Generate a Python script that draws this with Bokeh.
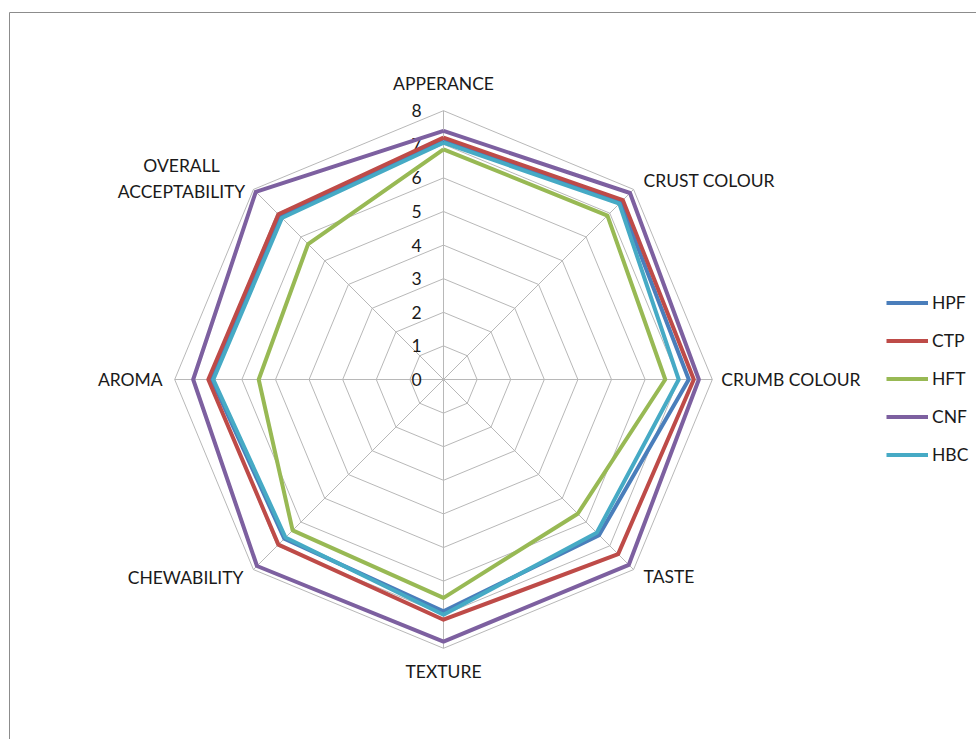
import math
from bokeh.plotting import figure
from bokeh.models import Range1d, Legend, LegendItem
from bokeh.core.properties import value
from bokeh.embed import file_html
from bokeh.resources import INLINE

categories = ["APPERANCE", "CRUST COLOUR", "CRUMB COLOUR", "TASTE", "TEXTURE",
              "CHEWABILITY", "AROMA", "OVERALL\nACCEPTABILITY"]
series_names = ["HPF", "CTP", "HFT", "CNF", "HBC"]
HPF = [7.1, 7.45, 7.3, 6.55, 6.9, 6.7, 6.9, 6.85]
CTP = [7.2, 7.55, 7.45, 7.35, 7.15, 6.95, 7.0, 6.95]
HFT = [6.85, 6.9, 6.6, 5.65, 6.5, 6.35, 5.5, 5.7]
CNF = [7.4, 7.85, 7.6, 7.8, 7.8, 7.85, 7.45, 7.9]
HBC = [7.05, 7.4, 7.0, 6.45, 7.0, 6.65, 6.85, 6.8]
tick_values = [0, 1, 2, 3, 4, 5, 6, 7, 8]
colors = ["#4A7EBB", "#BE4B48", "#98B954", "#7D60A0", "#46AAC5"]

W, H = 976, 739
CX, CY = 443, 379          # centre in pixels
UNIT = 33.6                # pixels per value unit
FONT = "Lato"
FS = "17.5px"

p = figure(width=W, height=H, output_backend="svg", toolbar_location=None,
           x_range=Range1d(-CX / UNIT, (W - CX) / UNIT),
           y_range=Range1d(-(H - CY) / UNIT, CY / UNIT),
           min_border=0)
p.axis.visible = False
p.grid.visible = False
p.outline_line_color = None
p.background_fill_color = "white"
p.border_fill_color = "white"

n = len(categories)
angles = [math.pi / 2 - i * 2 * math.pi / n for i in range(n)]

# frame border
fx = (9 - CX) / UNIT
fy = (CY - 12) / UNIT
p.line([fx, fx, (W + 20 - CX) / UNIT], [-(H + 20 - CY) / UNIT, fy, fy],
       line_color="#8c8c8c", line_width=1)

# grid octagons
rmax = tick_values[-1]
for t in tick_values[1:]:
    xs = [t * math.cos(a) for a in angles] + [t * math.cos(angles[0])]
    ys = [t * math.sin(a) for a in angles] + [t * math.sin(angles[0])]
    p.line(xs, ys, line_color="#b8b8b8", line_width=1)
for a in angles:
    p.line([0, rmax * math.cos(a)], [0, rmax * math.sin(a)], line_color="#b8b8b8", line_width=1)

# tick labels
p.text(x=[0] * len(tick_values), y=tick_values, text=[str(t) for t in tick_values],
       x_offset=-27, text_align="center", text_baseline="middle",
       text_font=value(FONT), text_font_size=FS, text_color="#1a1a1a")

# category labels
lab_r = 8.0
offs = [(0, -27, "center"), (10, -9, "left"), (9, 0, "left"), (10, 7, "left"),
        (0, 23, "center"), (-10, 8, "right"), (-12, 0, "right"), (0, -11, "center")]
for i, (c, a) in enumerate(zip(categories, angles)):
    dx, dy, al = offs[i]
    x = lab_r * math.cos(a)
    y = lab_r * math.sin(a)
    if i == 7:
        x = (181 - CX) / UNIT
    p.text(x=[x], y=[y], text=[c], x_offset=dx, y_offset=dy, text_align=al,
           text_baseline="middle", text_font=value(FONT), text_font_size=FS,
           text_color="#1a1a1a", text_line_height=1.2)

# series
items = []
for name, vals, col in zip(series_names, [HPF, CTP, HFT, CNF, HBC], colors):
    xs = [v * math.cos(a) for v, a in zip(vals, angles)]
    ys = [v * math.sin(a) for v, a in zip(vals, angles)]
    xs.append(xs[0]); ys.append(ys[0])
    r = p.line(xs, ys, line_color=col, line_width=4, line_join="round")
    items.append(LegendItem(label=name, renderers=[r]))

legend = Legend(items=items, location=(886, H - 465), orientation="vertical",
                label_text_font=FONT, label_text_font_size=FS, label_text_color="#1a1a1a",
                glyph_width=42, glyph_height=21, label_height=21, spacing=17,
                label_standoff=4, padding=0, margin=0,
                border_line_color=None, background_fill_alpha=0)
p.add_layout(legend, "center")

open("out.html", "w").write(file_html(p, INLINE))
